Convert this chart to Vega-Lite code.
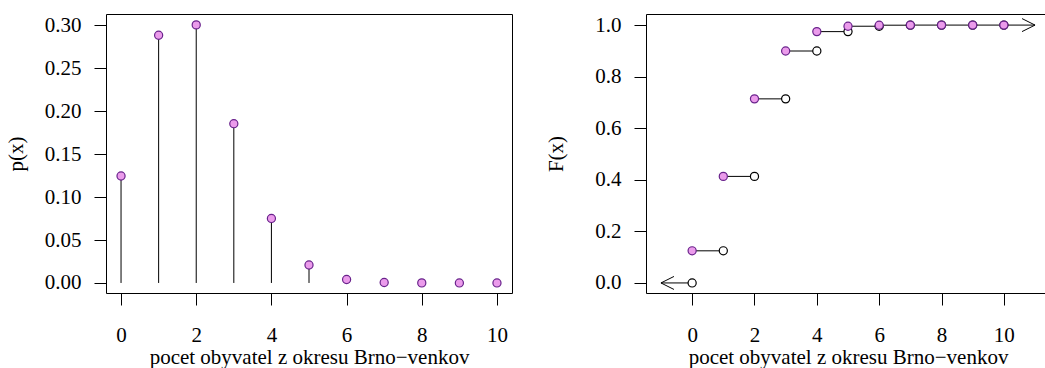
{
  "$schema": "https://vega.github.io/schema/vega-lite/v6.json",
  "background": "white",
  "padding": {"left": 4, "top": 13, "right": 0, "bottom": 0},
  "bounds": "flush",
  "spacing": 134,
  "config": {
    "view": {"stroke": "black", "strokeWidth": 1},
    "axis": {
      "domain": false, "grid": false, "ticks": true, "tickColor": "black", "tickSize": 12, "tickWidth": 1,
      "labelFont": "Liberation Serif", "labelFontSize": 21, "labelColor": "black",
      "titleFont": "Liberation Serif", "titleFontSize": 21, "titleColor": "black", "titleFontWeight": "normal"
    },
    "axisX": {"labelPadding": 19, "titlePadding": 1},
    "axisY": {"labelPadding": 13}
  },
  "datasets": {
    "pmf": [
      {"x": 0, "p": 0.1246}, {"x": 1, "p": 0.2886}, {"x": 2, "p": 0.3007}, {"x": 3, "p": 0.1856},
      {"x": 4, "p": 0.0752}, {"x": 5, "p": 0.0209}, {"x": 6, "p": 0.0040}, {"x": 7, "p": 0.0005},
      {"x": 8, "p": 0.00005}, {"x": 9, "p": 0.000002}, {"x": 10, "p": 0.0}
    ],
    "steps": [
      {"x": -1, "xnext": 0, "F": 0},
      {"x": 0, "xnext": 1, "F": 0.1246}, {"x": 1, "xnext": 2, "F": 0.4132}, {"x": 2, "xnext": 3, "F": 0.7139},
      {"x": 3, "xnext": 4, "F": 0.8995}, {"x": 4, "xnext": 5, "F": 0.9747}, {"x": 5, "xnext": 6, "F": 0.9956},
      {"x": 6, "xnext": 7, "F": 0.9996}, {"x": 7, "xnext": 8, "F": 1.0}, {"x": 8, "xnext": 9, "F": 1.0},
      {"x": 9, "xnext": 10, "F": 1.0}, {"x": 10, "xnext": 11, "F": 1.0}
    ],
    "open": [
      {"x": 0, "F": 0}, {"x": 1, "F": 0.1246}, {"x": 2, "F": 0.4132}, {"x": 3, "F": 0.7139},
      {"x": 4, "F": 0.8995}, {"x": 5, "F": 0.9747}, {"x": 6, "F": 0.9956}, {"x": 7, "F": 0.9996},
      {"x": 8, "F": 1.0}, {"x": 9, "F": 1.0}, {"x": 10, "F": 1.0}
    ],
    "filled": [
      {"x": 0, "F": 0.1246}, {"x": 1, "F": 0.4132}, {"x": 2, "F": 0.7139}, {"x": 3, "F": 0.8995},
      {"x": 4, "F": 0.9747}, {"x": 5, "F": 0.9956}, {"x": 6, "F": 0.9996}, {"x": 7, "F": 1.0},
      {"x": 8, "F": 1.0}, {"x": 9, "F": 1.0}, {"x": 10, "F": 1.0}
    ],
    "arrows": [
      {"x": -1, "F": 0, "dir": "left"},
      {"x": 11, "F": 1, "dir": "right"}
    ]
  },
  "hconcat": [
    {
      "width": 406,
      "height": 279,
      "layer": [
        {
          "data": {"name": "pmf"},
          "mark": {"type": "rule", "color": "black", "strokeWidth": 1},
          "encoding": {
            "x": {"field": "x", "type": "quantitative",
              "scale": {"domain": [-0.4, 10.4], "nice": false, "zero": false},
              "axis": {"values": [0, 2, 4, 6, 8, 10], "title": "pocet obyvatel z okresu Brno−venkov"}},
            "y": {"field": "p", "type": "quantitative",
              "scale": {"domain": [-0.0117, 0.3134], "nice": false, "zero": false},
              "axis": {"values": [0, 0.05, 0.1, 0.15, 0.2, 0.25, 0.3], "format": ".2f", "title": "p(x)",
                "titleX": -90, "titleY": 139.5, "titleBaseline": "middle", "titleAlign": "center", "titleAngle": 270}},
            "y2": {"datum": 0}
          }
        },
        {
          "data": {"name": "pmf"},
          "mark": {"type": "point", "shape": "circle", "filled": true, "fill": "#EB9BEB", "stroke": "#68228B", "strokeWidth": 1.2, "size": 66, "opacity": 1},
          "encoding": {
            "x": {"field": "x", "type": "quantitative"},
            "y": {"field": "p", "type": "quantitative"}
          }
        }
      ]
    },
    {
      "width": 404,
      "height": 279,
      "layer": [
        {
          "data": {"name": "steps"},
          "mark": {"type": "rule", "color": "black", "strokeWidth": 1},
          "encoding": {
            "x": {"field": "x", "type": "quantitative",
              "scale": {"domain": [-1.48, 11.48], "nice": false, "zero": false},
              "axis": {"values": [0, 2, 4, 6, 8, 10], "title": "pocet obyvatel z okresu Brno−venkov"}},
            "x2": {"field": "xnext"},
            "y": {"field": "F", "type": "quantitative",
              "scale": {"domain": [-0.039, 1.043], "nice": false, "zero": false},
              "axis": {"values": [0, 0.2, 0.4, 0.6, 0.8, 1.0], "format": ".1f", "title": "F(x)",
                "titleX": -90, "titleY": 139.5, "titleBaseline": "middle", "titleAlign": "center", "titleAngle": 270}}
          }
        },
        {
          "data": {"name": "open"},
          "mark": {"type": "point", "shape": "circle", "filled": true, "fill": "white", "stroke": "black", "strokeWidth": 1.2, "size": 66, "opacity": 1},
          "encoding": {
            "x": {"field": "x", "type": "quantitative"},
            "y": {"field": "F", "type": "quantitative"}
          }
        },
        {
          "data": {"name": "filled"},
          "mark": {"type": "point", "shape": "circle", "filled": true, "fill": "#EB9BEB", "stroke": "#68228B", "strokeWidth": 1.2, "size": 66, "opacity": 1},
          "encoding": {
            "x": {"field": "x", "type": "quantitative"},
            "y": {"field": "F", "type": "quantitative"}
          }
        },
        {
          "data": {"name": "arrows"},
          "mark": {"type": "point", "filled": false, "stroke": "black", "strokeWidth": 1, "size": 676, "opacity": 1},
          "encoding": {
            "x": {"field": "x", "type": "quantitative"},
            "y": {"field": "F", "type": "quantitative"},
            "shape": {"field": "dir", "type": "nominal",
              "scale": {"domain": ["left", "right"], "range": ["M1,-0.5L0,0L1,0.5", "M-1,-0.5L0,0L-1,0.5"]},
              "legend": null}
          }
        }
      ]
    }
  ]
}
